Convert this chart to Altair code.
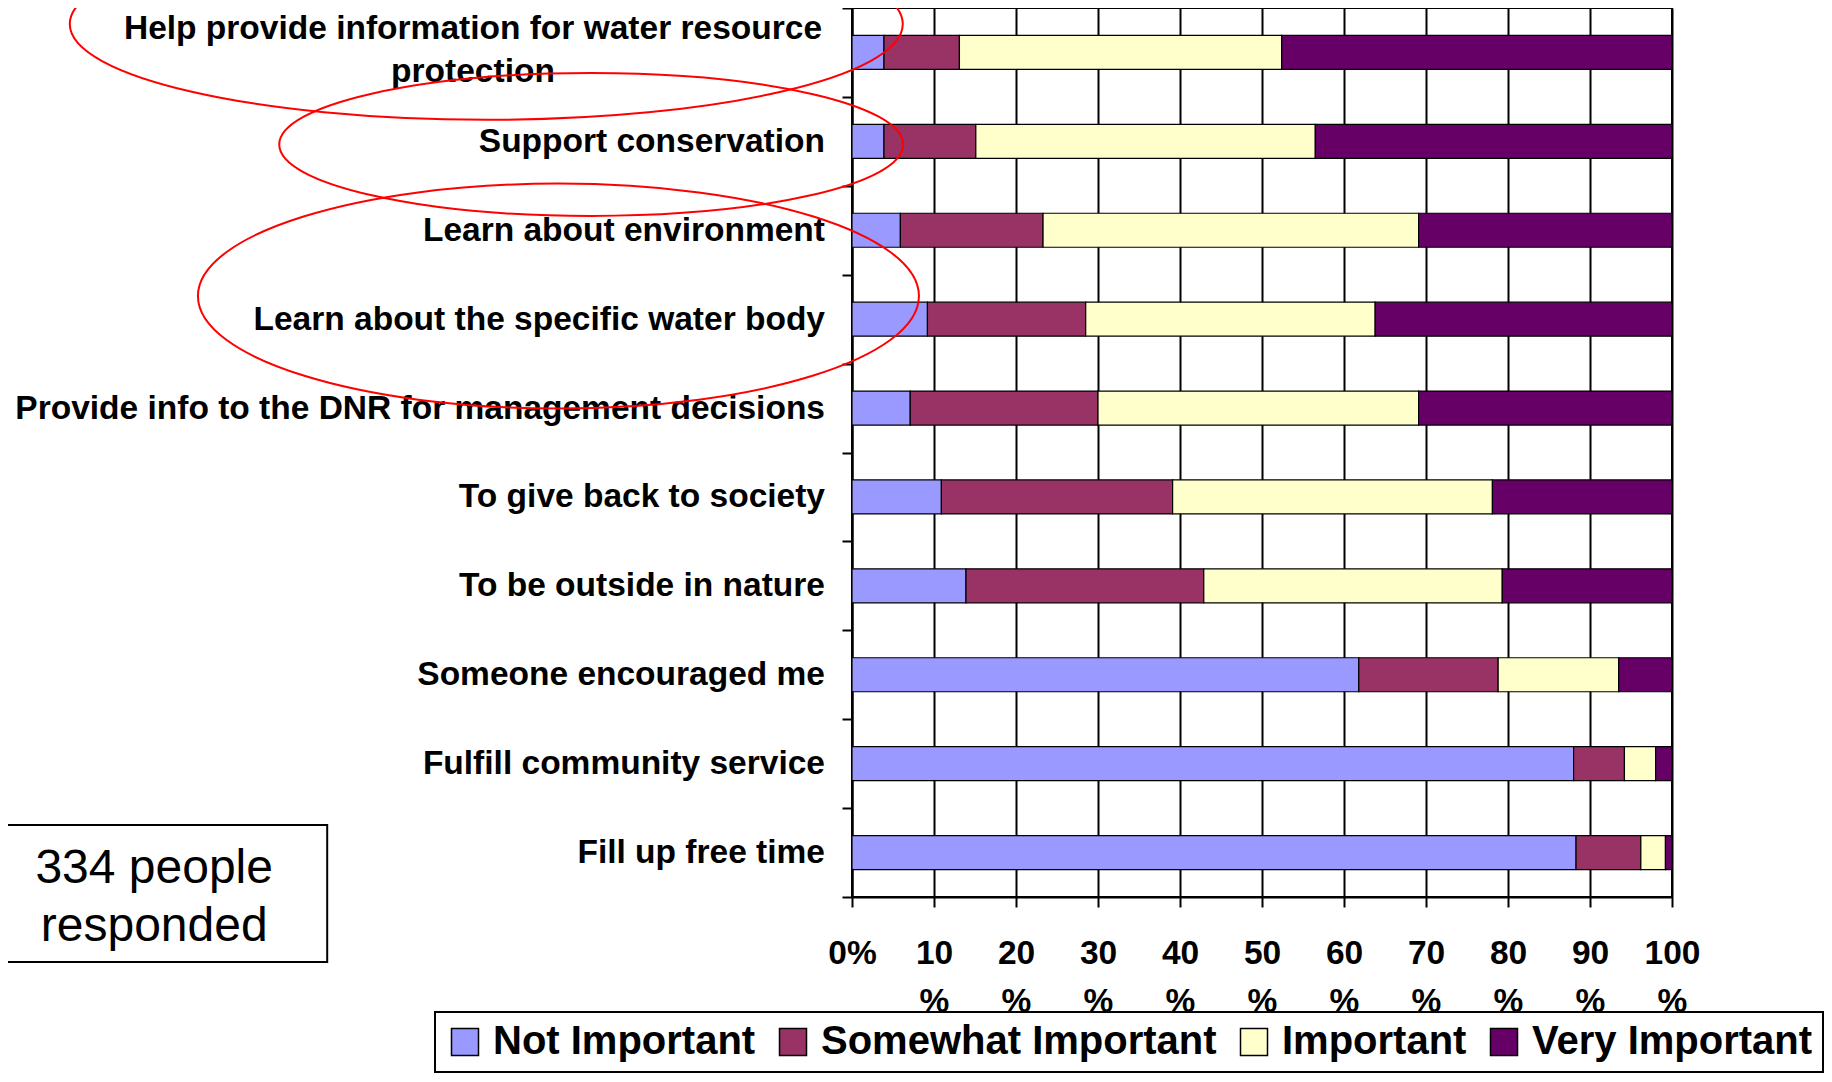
import altair as alt
import pandas as pd

# ---------------- data ----------------
categories = [
    "Help provide information for water resource protection",
    "Support conservation",
    "Learn about environment",
    "Learn about the specific water body",
    "Provide info to the DNR for management decisions",
    "To give back to society",
    "To be outside in nature",
    "Someone encouraged me",
    "Fulfill community service",
    "Fill up free time",
]
first_label_lines = ["Help provide information for water resource", "protection"]

levels = ["Not Important", "Somewhat Important", "Important", "Very Important"]
level_colors = ["#9999FF", "#993366", "#FFFFCC", "#660066"]

not_important = [3.9, 3.9, 5.9, 9.2, 7.1, 10.9, 13.9, 61.8, 88.0, 88.3]
somewhat_important = [9.2, 11.2, 17.4, 19.3, 22.9, 28.2, 29.0, 17.0, 6.2, 7.9]
important = [39.3, 41.4, 45.8, 35.3, 39.1, 39.0, 36.4, 14.7, 3.8, 3.0]
very_important = [47.6, 43.5, 30.9, 36.2, 30.9, 21.9, 20.7, 6.5, 2.0, 0.8]

x_ticks = [0, 10, 20, 30, 40, 50, 60, 70, 80, 90, 100]

respondents_note = ["334 people", "responded"]

# annotation placement (x in percent units, y in category rows from top)
ellipse_x = [-44.6, -31.8, -35.8]
ellipse_y = [0.18, 1.535, 3.24]
ellipse_width_px = [833, 624, 721]
ellipse_ratio = [0.23, 0.229, 0.312]

note_box_x = [-106.0]
note_box_x2 = [-64.0]
note_box_y = [9.19]
note_box_y2 = [10.73]
note_text_x = [-85.1]
note_text_y = [9.84]

# ---------------- tables ----------------
series = [not_important, somewhat_important, important, very_important]
rows = []
for i, cat in enumerate(categories):
    for j, lvl in enumerate(levels):
        rows.append({"category": cat, "level": lvl, "order": j, "value": series[j][i]})
df = pd.DataFrame(rows)


def ellipse_path(r):
    k = 0.5523
    return (
        f"M -1 0 C -1 {-k * r:.4f} {-k:.4f} {-r:.4f} 0 {-r:.4f} "
        f"C {k:.4f} {-r:.4f} 1 {-k * r:.4f} 1 0 "
        f"C 1 {k * r:.4f} {k:.4f} {r:.4f} 0 {r:.4f} "
        f"C {-k:.4f} {r:.4f} -1 {k * r:.4f} -1 0 Z"
    )


ell_df = pd.DataFrame({
    "x": ellipse_x,
    "y": ellipse_y,
    "size": [w * w for w in ellipse_width_px],
    "shape": [ellipse_path(r) for r in ellipse_ratio],
})
box_df = pd.DataFrame({"x": note_box_x, "x2": note_box_x2, "y": note_box_y, "y2": note_box_y2})
txt_df = pd.DataFrame({"x": note_text_x, "y": note_text_y})

FONT = "Liberation Sans"
xscale = alt.Scale(domain=[0, 100], nice=False, zero=False)
rowscale = alt.Scale(domain=[0, 10], reverse=True, nice=False, zero=False)

first = categories[0]
first_lines_js = "[" + ", ".join(f"'{s}'" for s in first_label_lines) + "]"
test_first = f"datum.value == '{first}'"

x_axis = alt.Axis(
    title=None,
    values=x_ticks,
    labelExpr="datum.value == 0 ? '0%' : [format(datum.value, 'd'), '%']",
    labelFont=FONT,
    labelFontSize=33.5,
    labelFontWeight="bold",
    labelColor="black",
    labelLineHeight=48,
    labelPadding=30,
    labelBaseline="top",
    labelFlush=False,
    labelOverlap=False,
    tickSize=10,
    tickColor="black",
    tickWidth=2,
    domainColor="black",
    domainWidth=2,
    grid=True,
    gridColor="black",
    gridWidth=2,
    gridOpacity=1,
)

y_axis = alt.Axis(
    title=None,
    labelExpr=f"{test_first} ? {first_lines_js} : datum.label",
    labelAlign={"condition": {"test": test_first, "value": "center"}, "value": "right"},
    labelPadding={"condition": {"test": test_first, "value": 369.5}, "value": 17.5},
    labelOffset={"condition": {"test": test_first, "value": -24}, "value": 0},
    labelBaseline="middle",
    labelFont=FONT,
    labelFontSize=33.5,
    labelFontWeight="bold",
    labelColor="black",
    labelLimit=1200,
    labelLineHeight=43,
    tickBand="extent",
    tickSize=10,
    tickColor="black",
    tickWidth=2,
    domainColor="black",
    domainWidth=2,
    grid=False,
)

legend = alt.Legend(
    title=None,
    orient="none",
    legendX=-417,
    legendY=1004,
    direction="horizontal",
    symbolType="square",
    symbolSize=729,
    symbolStrokeColor="black",
    symbolStrokeWidth=1.5,
    symbolOpacity=1,
    labelFont=FONT,
    labelFontSize=40,
    labelFontWeight="bold",
    labelColor="black",
    labelLimit=1000,
    labelOffset=8,
    columnPadding=17,
    padding=10,
    strokeColor="black",
    fillColor="white",
)

bars = alt.Chart(df).mark_bar(size=34, stroke="black", strokeWidth=1.2).encode(
    x=alt.X("value:Q", stack="zero", scale=xscale, axis=x_axis),
    y=alt.Y("category:N", sort=categories,
            scale=alt.Scale(paddingInner=0, paddingOuter=0), axis=y_axis),
    color=alt.Color("level:N", scale=alt.Scale(domain=levels, range=level_colors),
                    sort=levels, legend=legend),
    order=alt.Order("order:Q"),
)

ellipses = alt.Chart(ell_df).mark_point(
    filled=False, stroke="#FF0000", strokeWidth=2, opacity=1
).encode(
    x=alt.X("x:Q", scale=xscale, axis=None),
    y=alt.Y("y:Q", scale=rowscale, axis=None),
    size=alt.Size("size:Q", scale=None, legend=None),
    shape=alt.Shape("shape:N", scale=None, legend=None),
)

box = alt.Chart(box_df).mark_rect(fill="white", stroke="black", strokeWidth=2).encode(
    x=alt.X("x:Q", scale=xscale, axis=None),
    x2="x2:Q",
    y=alt.Y("y:Q", scale=rowscale, axis=None),
    y2="y2:Q",
)

note = alt.Chart(txt_df).mark_text(
    font=FONT, fontSize=48, align="center", baseline="alphabetic",
    lineHeight=58, color="black"
).encode(
    x=alt.X("x:Q", scale=xscale, axis=None),
    y=alt.Y("y:Q", scale=rowscale, axis=None),
    text=alt.value(respondents_note),
)

chart = (
    alt.layer(bars, box, note, ellipses)
    .resolve_scale(y="independent")
    .resolve_axis(x="independent", y="independent")
    .properties(
        width=820,
        height=889,
        autosize=alt.AutoSizeParams(type="none"),
        padding={"left": 844, "top": 0, "right": 152, "bottom": 177},
        background="white",
    )
    .configure_view(stroke="black", strokeWidth=2)
    .configure_legend(strokeWidth=2)
)

chart.save("out.html", embed_options={"renderer": "svg", "actions": False})
